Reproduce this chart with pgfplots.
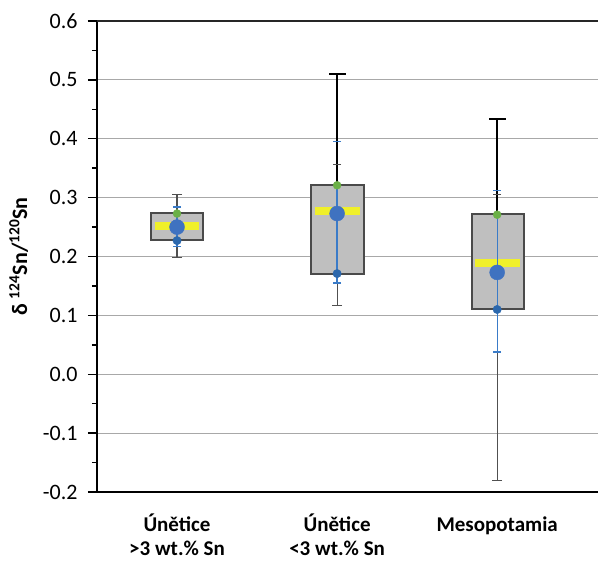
\documentclass[border=0pt]{standalone}
\usepackage{pgfplots}
\pgfplotsset{compat=1.18}
\usepackage{fontspec}
\setmainfont{Carlito}
\definecolor{boxfill}{HTML}{BFBFBF}
\definecolor{boxedge}{HTML}{4A4A4A}
\definecolor{medyellow}{HTML}{F0F02A}
\definecolor{meanblue}{HTML}{3F72C0}
\definecolor{errblue}{HTML}{3A7BC8}
\definecolor{dotblue}{HTML}{2C68AD}
\definecolor{dotgreen}{HTML}{6BB046}
\definecolor{gridgray}{HTML}{A8A8A8}
\definecolor{whiskgray}{HTML}{505050}
\begin{document}
\begin{tikzpicture}
\begin{axis}[
  scale only axis, width=501pt, height=471pt,
  xmin=0.5, xmax=3.63, ymin=-0.2, ymax=0.6,
  axis x line*=bottom, axis y line*=left,
  axis line style={black, line width=1.4pt},
  font=\fontsize{22}{26}\selectfont,
  xtick={1,2,3},
  xticklabels={{Únětice\\>3 wt.\% Sn},{Únětice\\<3 wt.\% Sn},{\vphantom{Ú}Mesopotamia}},
  xticklabel style={align=center, font=\fontsize{21}{24}\selectfont\bfseries, yshift=-9pt},
  x tick style={draw=none},
  ytick={-0.2,-0.1,0,0.1,0.2,0.3,0.4,0.5,0.6},
  minor y tick num=1,
  tick align=outside,
  major tick length=9pt, minor tick length=5pt,
  y tick style={black, line width=1.4pt},
  yticklabel style={xshift=-7pt},
  y tick label style={/pgf/number format/.cd, fixed, fixed zerofill, precision=1, assume math mode=true},
  ymajorgrids, major grid style={gridgray, line width=1.2pt},
  extra y ticks={0.6}, extra y tick labels={},
  extra y tick style={ymajorgrids=true, major grid style={black!85, line width=1.4pt}},
  ylabel={\bfseries δ \textsuperscript{124}Sn/\textsuperscript{120}Sn},
  ylabel style={font=\fontsize{22}{26}\selectfont\bfseries, yshift=-10pt},
  clip=false,
]
% lower whiskers
\addplot[whiskgray, line width=1.1pt, mark=-, mark size=5pt, mark indices={2}, mark options={line width=1.1pt}] coordinates {(1,0.228) (1,0.199)};
\addplot[whiskgray, line width=1pt, mark=-, mark size=5pt, mark indices={2}, mark options={line width=1pt}] coordinates {(2,0.171) (2,0.116)};
\addplot[whiskgray, line width=1pt, mark=-, mark size=5pt, mark indices={2}, mark options={line width=1pt}] coordinates {(3,0.110) (3,-0.180)};
% boxes
\addplot[fill=boxfill, draw=boxedge, line width=2pt] coordinates {(0.84,0.228) (1.16,0.228) (1.16,0.274) (0.84,0.274)} -- cycle;
\addplot[fill=boxfill, draw=boxedge, line width=2pt] coordinates {(1.835,0.171) (2.165,0.171) (2.165,0.321) (1.835,0.321)} -- cycle;
\addplot[fill=boxfill, draw=boxedge, line width=2pt] coordinates {(2.84,0.110) (3.165,0.110) (3.165,0.272) (2.84,0.272)} -- cycle;
% medians
\addplot[medyellow, line width=8pt] coordinates {(0.86,0.252) (1.14,0.252)};
\addplot[medyellow, line width=8pt] coordinates {(1.86,0.277) (2.14,0.277)};
\addplot[medyellow, line width=8pt] coordinates {(2.86,0.189) (3.14,0.189)};
% blue error lines
\addplot[errblue, line width=1.3pt, mark=-, mark size=4pt, mark options={line width=1.3pt}] coordinates {(1,0.217) (1,0.284)};
\addplot[errblue, line width=1.3pt, mark=-, mark size=4pt, mark options={line width=1.3pt}] coordinates {(2,0.155) (2,0.395)};
\addplot[errblue, line width=1.3pt, mark=-, mark size=4pt, mark options={line width=1.3pt}] coordinates {(3,0.038) (3,0.312)};
% upper whiskers
\addplot[whiskgray, line width=1.3pt, mark=-, mark size=5pt, mark indices={2}, mark options={line width=1.3pt}] coordinates {(1,0.274) (1,0.305)};
\addplot[black, line width=2.3pt, mark=-, mark size=8.5pt, mark indices={2}, mark options={line width=2.3pt}] coordinates {(2,0.321) (2,0.510)};
\addplot[black, line width=2.3pt, mark=-, mark size=8.5pt, mark indices={2}, mark options={line width=2.3pt}] coordinates {(3,0.272) (3,0.433)};
% extra small ticks
\addplot[only marks, mark=-, mark size=4pt, mark options={line width=1.1pt, draw=whiskgray}] coordinates {(2,0.357) (3,0.306)};
% dots
\addplot[only marks, mark=*, mark size=7.5pt, mark options={fill=meanblue, draw=meanblue}] coordinates {(1,0.250) (2,0.273) (3,0.173)};
\addplot[only marks, mark=*, mark size=4pt, mark options={fill=dotgreen, draw=dotgreen}] coordinates {(1,0.273) (2,0.321) (3,0.271)};
\addplot[only marks, mark=*, mark size=4.2pt, mark options={fill=dotblue, draw=dotblue}] coordinates {(1,0.227) (2,0.171) (3,0.110)};
\end{axis}
\pgfresetboundingbox
\path[use as bounding box] ([shift={(-97pt,-70pt)}]current axis.south west) rectangle ([shift={(5pt,21pt)}]current axis.north east);
\end{tikzpicture}
\end{document}
